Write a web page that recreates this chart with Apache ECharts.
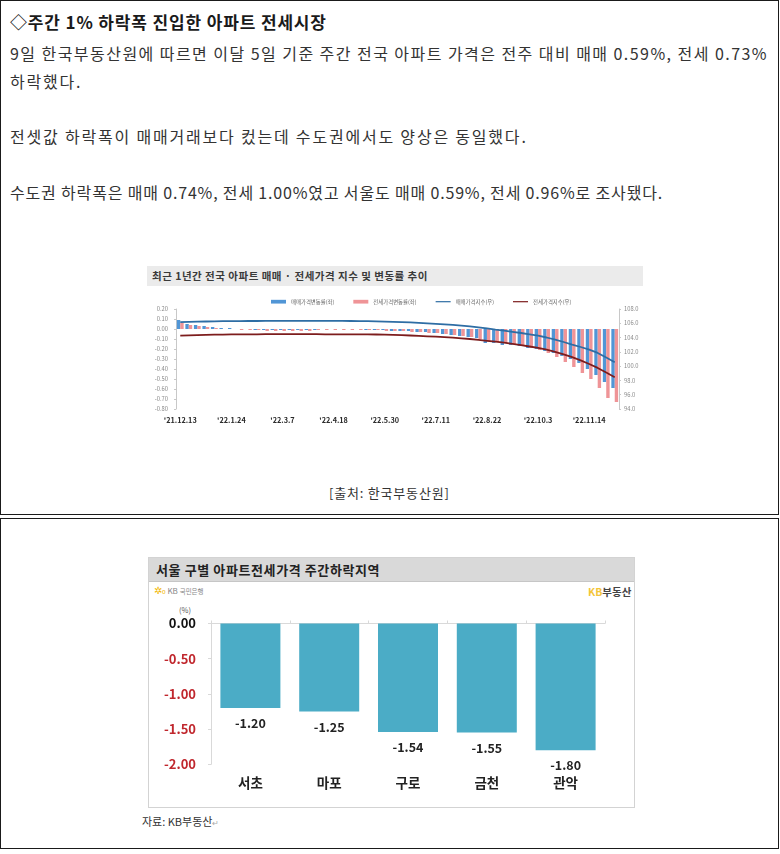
<!DOCTYPE html>
<html><head><meta charset="utf-8">
<script src="https://cdn.jsdelivr.net/npm/echarts/dist/echarts.min.js"></script>
<style>
html,body{margin:0;padding:0;background:#fff;width:780px;height:854px;overflow:hidden;font-family:"Noto Sans CJK KR","Noto Sans",sans-serif;}
.box{position:absolute;left:0;width:779px;border:1.5px solid #1a1a1a;box-sizing:border-box;}
.t{position:absolute;left:10px;white-space:nowrap;color:#333;font-size:16px;letter-spacing:0.8px;line-height:20px;}
.abs{position:absolute;white-space:nowrap;}
</style></head><body>
<div class="box" style="top:0;height:515px"></div>
<div class="box" style="top:518px;height:331px"></div>

<div class="t" style="top:12px;font-weight:bold;color:#1a1a1a;font-size:17px;letter-spacing:0.85px">◇주간 1% 하락폭 진입한 아파트 전세시장</div>
<div class="t" style="top:43px;letter-spacing:1.45px">9일 한국부동산원에 따르면 이달 5일 기준 주간 전국 아파트 가격은 전주 대비 매매 0.59%, 전세 0.73%</div>
<div class="t" style="top:71px;letter-spacing:1.8px">하락했다.</div>
<div class="t" style="top:126px;letter-spacing:1.8px">전셋값 하락폭이 매매거래보다 컸는데 수도권에서도 양상은 동일했다.</div>
<div class="t" style="top:182px;letter-spacing:0.83px">수도권 하락폭은 매매 0.74%, 전세 1.00%였고 서울도 매매 0.59%, 전세 0.96%로 조사됐다.</div>

<div class="abs" style="left:147px;top:266px;width:496px;height:20px;background:#ebebeb;"></div>
<div class="abs" style="left:152px;top:266px;line-height:20px;font-size:10.5px;font-weight:bold;color:#3a3a3a;letter-spacing:0.5px">최근 1년간 전국 아파트 매매 · 전세가격 지수 및 변동률 추이</div>
<div id="c1" class="abs" style="left:147px;top:287px;width:497px;height:143px"></div>

<div class="abs" style="left:329px;top:484px;font-size:13px;color:#333;line-height:18px;letter-spacing:0.8px">[출처: 한국부동산원]</div>

<div class="abs" style="left:148px;top:557px;width:487px;height:251px;border:1px solid #d3d3d3;box-sizing:border-box;"></div>
<div class="abs" style="left:149px;top:558px;width:485px;height:23px;background:#d9d9d9;border-bottom:1px solid #c6c6c6;"></div>
<div class="abs" style="left:156px;top:558px;line-height:23px;font-size:13px;font-weight:bold;color:#222;letter-spacing:0.6px">서울 구별 아파트전세가격 주간하락지역</div>
<div class="abs" style="left:154px;top:583px;line-height:14px;font-size:8px;color:#888"><span style="color:#f2b705;font-size:10px">✲</span><span style="color:#f2b705;font-size:6px">o</span> KB <span style="font-size:6.5px">국민은행</span></div>
<div class="abs" style="left:588px;top:584px;line-height:15px;font-size:10.5px;font-weight:bold;color:#444"><span style="color:#f3c53a">KB</span>부동산</div>
<div class="abs" style="left:179px;top:604px;line-height:12px;font-size:7.5px;color:#555">(%)</div>
<div id="c2" class="abs" style="left:148px;top:582px;width:487px;height:226px"></div>

<div class="abs" style="left:142px;top:813px;line-height:16px;font-size:11px;color:#333">자료: KB부동산<span style="color:#aaa;font-size:8px">↵</span></div>

<script>
const weekDates = ["'21.12.13","'21.12.20","'21.12.27","'22.1.3","'22.1.10","'22.1.17","'22.1.24","'22.1.31","'22.2.7","'22.2.14","'22.2.21","'22.2.28","'22.3.7","'22.3.14","'22.3.21","'22.3.28","'22.4.4","'22.4.11","'22.4.18","'22.4.25","'22.5.2","'22.5.9","'22.5.16","'22.5.23","'22.5.30","'22.6.6","'22.6.13","'22.6.20","'22.6.27","'22.7.4","'22.7.11","'22.7.18","'22.7.25","'22.8.1","'22.8.8","'22.8.15","'22.8.22","'22.8.29","'22.9.5","'22.9.12","'22.9.19","'22.9.26","'22.10.3","'22.10.10","'22.10.17","'22.10.24","'22.10.31","'22.11.7","'22.11.14","'22.11.21","'22.11.28","'22.12.5"];
const saleChange = [0.09,0.05,0.04,0.03,0.02,0.01,0.01,0.00,0.00,-0.01,-0.01,-0.01,-0.01,-0.01,-0.01,-0.01,-0.01,0.00,0.00,0.00,0.00,0.00,-0.01,-0.01,-0.01,-0.02,-0.02,-0.02,-0.03,-0.03,-0.04,-0.05,-0.06,-0.07,-0.08,-0.09,-0.14,-0.14,-0.16,-0.16,-0.17,-0.19,-0.20,-0.22,-0.24,-0.27,-0.30,-0.34,-0.40,-0.46,-0.53,-0.59];
const jeonseChange = [0.06,0.04,0.03,0.02,0.01,0.00,0.00,-0.01,-0.01,-0.01,-0.02,-0.02,-0.02,-0.02,-0.02,-0.02,-0.01,-0.01,-0.01,-0.01,-0.01,-0.01,-0.01,-0.01,-0.02,-0.02,-0.02,-0.03,-0.03,-0.04,-0.04,-0.05,-0.06,-0.07,-0.08,-0.10,-0.12,-0.13,-0.14,-0.15,-0.17,-0.19,-0.21,-0.24,-0.28,-0.33,-0.38,-0.44,-0.50,-0.59,-0.69,-0.73];
const saleIndex = [106.15,106.19,106.22,106.25,106.27,106.29,106.30,106.31,106.32,106.32,106.33,106.33,106.33,106.33,106.33,106.33,106.33,106.33,106.33,106.33,106.32,106.31,106.29,106.27,106.24,106.21,106.17,106.12,106.06,105.99,105.92,105.85,105.77,105.68,105.58,105.44,105.28,105.12,104.97,104.81,104.64,104.46,104.27,104.01,103.72,103.38,103.02,102.68,102.30,101.85,101.20,100.55];
const jeonseIndex = [104.26,104.30,104.34,104.37,104.40,104.42,104.44,104.45,104.46,104.46,104.47,104.47,104.47,104.47,104.47,104.47,104.47,104.46,104.46,104.46,104.46,104.45,104.45,104.43,104.40,104.37,104.33,104.29,104.24,104.18,104.12,104.05,103.98,103.90,103.80,103.68,103.55,103.42,103.28,103.12,102.95,102.75,102.55,102.30,102.00,101.65,101.25,100.80,100.30,99.75,99.10,98.45];
const seriesNames = ['매매가격변동률(좌)','전세가격변동률(좌)','매매가격지수(우)','전세가격지수(우)'];

const districts = ['서초','마포','구로','금천','관악'];
const districtChange = [-1.20,-1.25,-1.54,-1.55,-1.80];

const FONT = '"Noto Sans CJK KR","Noto Sans",sans-serif';
const c1 = echarts.init(document.getElementById('c1'));
const axisStyle = {lineStyle:{color:'#c8c8c8'}};
c1.setOption({
  animation:false,
  textStyle:{fontFamily:FONT},
  legend:{
    top:7,left:119,itemWidth:15,itemHeight:4,itemGap:19,
    textStyle:{fontSize:5.4,color:'#666',fontFamily:FONT},
    data:[
      {name:seriesNames[0],icon:'path://M0,0 H20 V5 H0 Z'},
      {name:seriesNames[1],icon:'path://M0,0 H20 V5 H0 Z'},
      {name:seriesNames[2],icon:'path://M0,0 H20 V1.6 H0 Z'},
      {name:seriesNames[3],icon:'path://M0,0 H20 V1.6 H0 Z'}
    ]
  },
  grid:{left:29,right:25,top:22,bottom:21},
  xAxis:{type:'category',data:weekDates,
    axisLine:{show:false,onZero:false},axisTick:{show:false},
    axisLabel:{interval:5,fontSize:7.3,fontWeight:'bold',color:'#2a2a2a',margin:8}},
  yAxis:[
    {type:'value',min:-0.8,max:0.2,interval:0.1,splitLine:{show:false},
     axisLine:{show:true,...axisStyle},axisTick:{show:true,length:2,...axisStyle},
     axisLabel:{fontSize:5.8,color:'#8a8a8a',margin:8,formatter:v=>v.toFixed(2)}},
    {type:'value',min:94,max:108,interval:2,splitLine:{show:false},position:'right',
     axisLine:{show:true,...axisStyle},axisTick:{show:true,length:2,...axisStyle},
     axisLabel:{fontSize:5.8,color:'#8a8a8a',margin:5,formatter:v=>v.toFixed(1)}}
  ],
  series:[
    {name:seriesNames[0],type:'bar',data:saleChange,barWidth:3.4,barGap:'0%',itemStyle:{color:'#5196d6'}},
    {name:seriesNames[1],type:'bar',data:jeonseChange,barWidth:3.4,barGap:'0%',itemStyle:{color:'#ef9497'}},
    {name:seriesNames[2],type:'line',yAxisIndex:1,data:saleIndex,showSymbol:false,symbol:'none',lineStyle:{width:1.8,color:'#2e6da4'},itemStyle:{color:'#2e6da4'}},
    {name:seriesNames[3],type:'line',yAxisIndex:1,data:jeonseIndex,showSymbol:false,symbol:'none',lineStyle:{width:1.8,color:'#7d1d1d'},itemStyle:{color:'#7d1d1d'}}
  ]
});

const c2 = echarts.init(document.getElementById('c2'));
c2.setOption({
  animation:false,
  textStyle:{fontFamily:FONT},
  grid:{left:63,right:30,top:41.5,bottom:43.7},
  xAxis:[
    {type:'category',data:districts,position:'top',
     axisLine:{show:true,onZero:false,lineStyle:{color:'#d9d9d9'}},
     axisTick:{show:true,length:3,lineStyle:{color:'#d9d9d9'}},
     axisLabel:{show:false}},
    {type:'category',data:districts,position:'bottom',
     axisLine:{show:false},axisTick:{show:false},
     axisLabel:{fontSize:13.5,fontWeight:'bold',color:'#222',margin:12}}
  ],
  yAxis:{type:'value',min:-2,max:0,interval:0.5,splitLine:{show:false},
    axisLine:{show:true,lineStyle:{color:'#d9d9d9'}},
    axisTick:{show:true,length:3,lineStyle:{color:'#d9d9d9'}},
    axisLabel:{fontSize:13,fontWeight:'bold',margin:15,
      formatter:v=>v.toFixed(2),
      color:v=>(Number(v)===0?'#111':'#c0272d')}},
  series:[{type:'bar',data:districtChange,barWidth:60,xAxisIndex:0,
    itemStyle:{color:'#4bacc6'},
    label:{show:true,position:'bottom',distance:9,fontSize:12.5,fontWeight:'bold',color:'#222',formatter:p=>p.value.toFixed(2)}}]
});
</script>
</body></html>
